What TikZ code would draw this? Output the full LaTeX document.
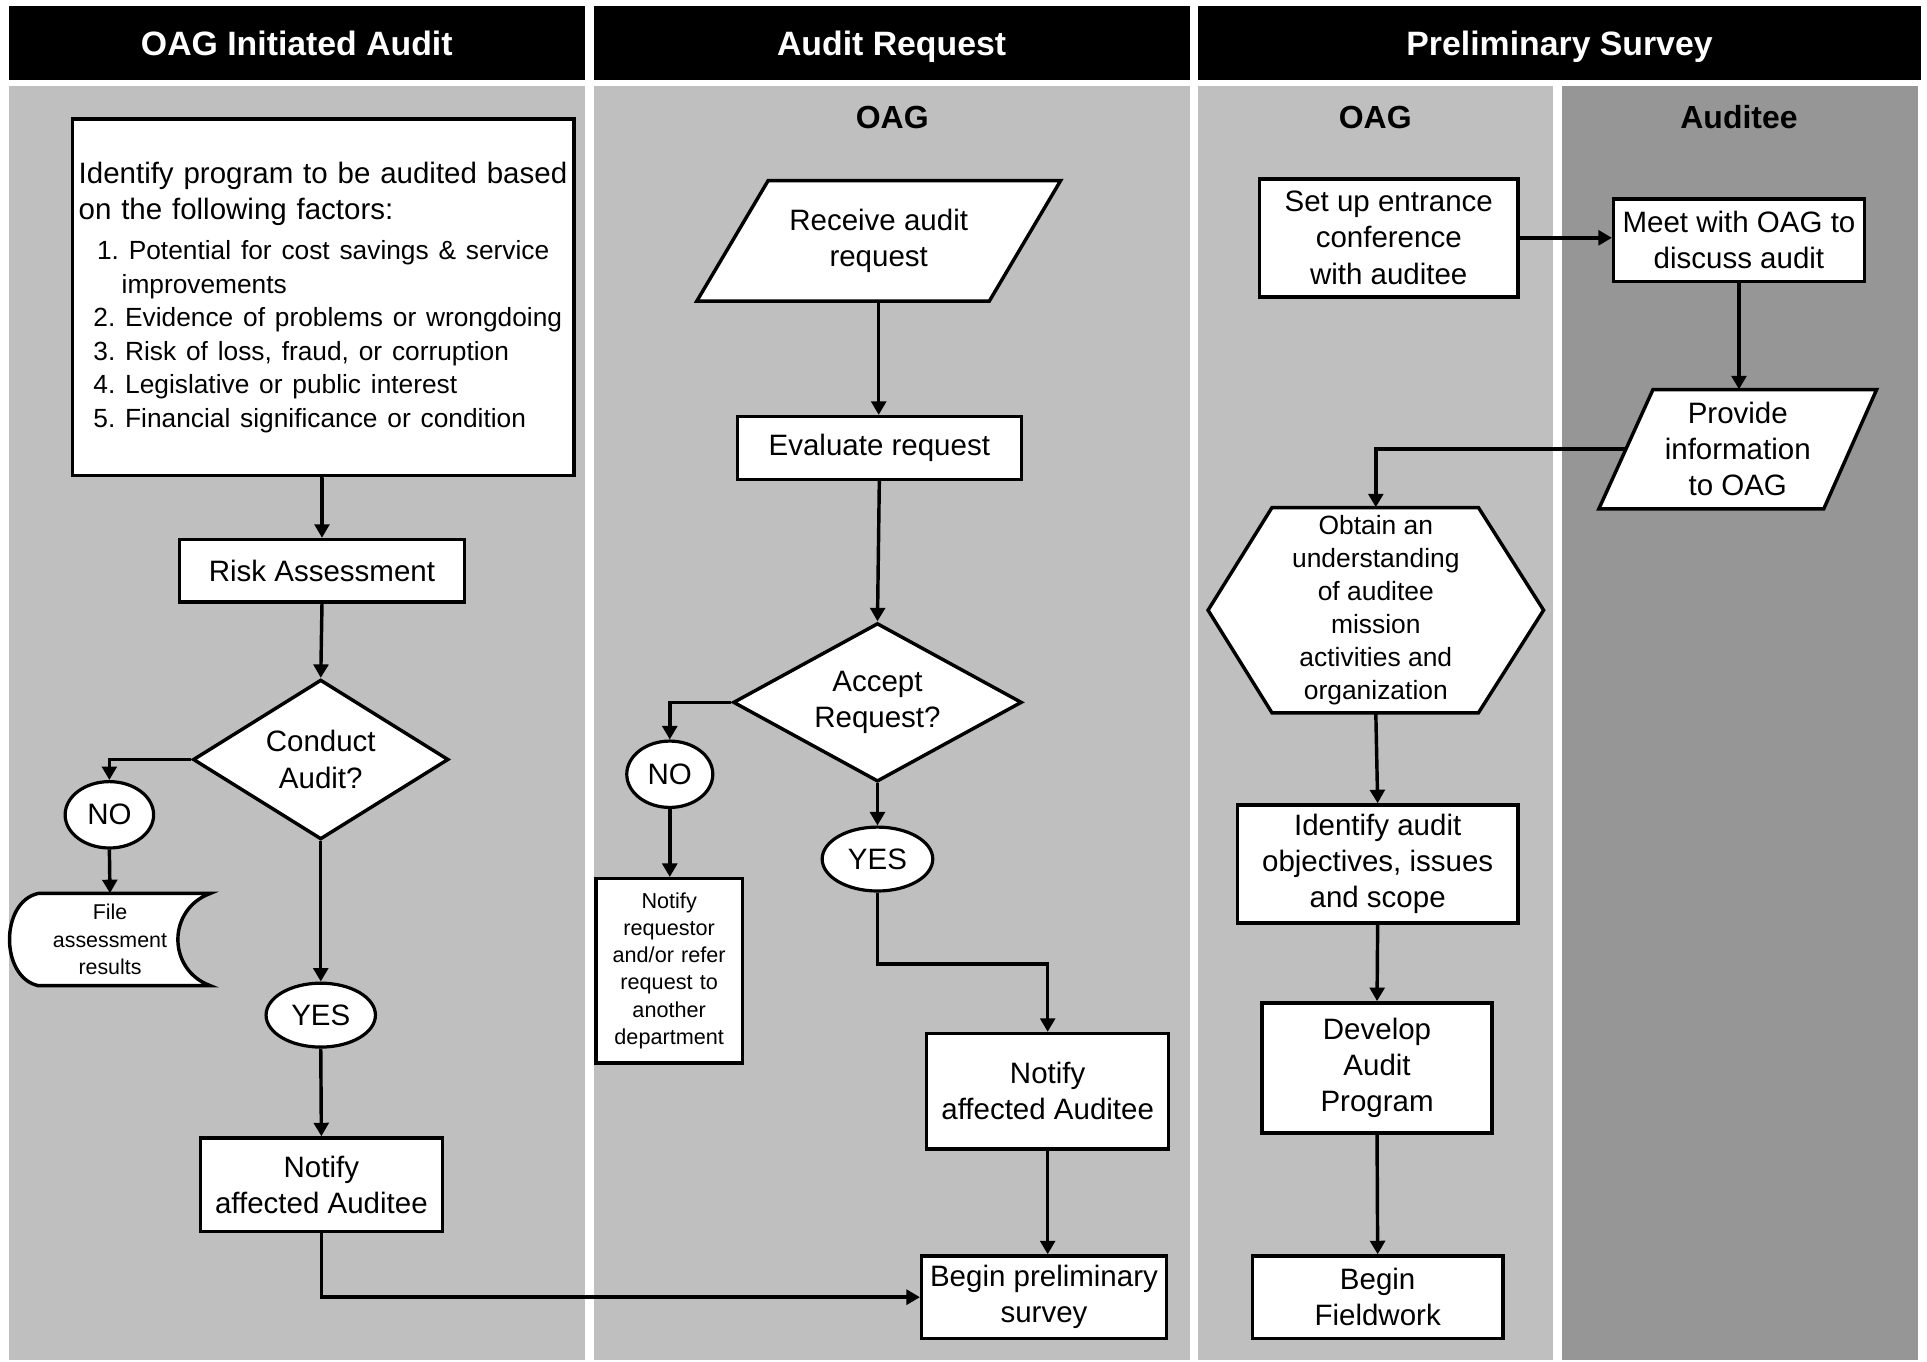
\documentclass[tikz,border=0pt]{standalone}
\usepackage{fontspec}
\setmainfont{Liberation Sans}
\usetikzlibrary{shapes.geometric,arrows.meta}
\definecolor{lanegray}{gray}{0.75}
\definecolor{auditeegray}{gray}{0.59}
\frenchspacing

\begin{document}
\begin{tikzpicture}[x=1pt,y=-1pt,
  header/.style={fill=black,text=white,inner sep=0pt,minimum height=60pt,text height=20pt,text depth=0pt,font=\bfseries\fontsize{27.5}{33}\selectfont},
  lanetitle/.style={inner sep=0pt,text height=19pt,text depth=0pt,font=\bfseries\fontsize{26}{31}\selectfont},
  procbox/.style={draw,fill=white,line width=2.8pt,align=center,inner sep=0pt,font=\fontsize{24}{29.5}\selectfont},
  decision/.style={diamond,aspect=1.7,draw,fill=white,line width=2.8pt,align=center,inner sep=0pt,font=\fontsize{24}{29.5}\selectfont},
  answer/.style={ellipse,draw,fill=white,line width=2.6pt,inner sep=0pt,font=\fontsize{24}{29}\selectfont},
  shapeline/.style={draw,fill=white,line width=2.8pt},
  shapetext/.style={align=center,inner sep=0pt,font=\fontsize{24}{29.5}\selectfont},
  flow/.style={-{Triangle[length=11pt,width=12pt]},line width=2.8pt}]
\useasboundingbox[fill=white] (0,0) rectangle (1568,1108);

% Spalten
\fill[lanegray] (7,70) rectangle (476,1107);
\fill[lanegray] (483,70) rectangle (968,1107);
\fill[lanegray] (975,70) rectangle (1264,1107);
\fill[auditeegray] (1271,70) rectangle (1561,1107);

\node[header,minimum width=469pt] (hdrinit) at (241.5,35) {OAG Initiated Audit};
\node[header,minimum width=485pt] (hdrreq) at (725.5,35) {Audit Request};
\node[header,minimum width=588pt] (hdrsurvey) at (1269,35) {Preliminary Survey};

\node[lanetitle] (oagreq) at (726,95) {OAG};
\node[lanetitle] (oagsurvey) at (1119,95) {OAG};
\node[lanetitle] (auditee) at (1415,95) {Auditee};

% Sonderformen
\coordinate (recvA) at (625,147);
\coordinate (recvB) at (863,147);
\coordinate (recvC) at (805,245);
\coordinate (recvD) at (567,245);
\coordinate (provA) at (1345,317);
\coordinate (provB) at (1527,317);
\coordinate (provC) at (1484,414);
\coordinate (provD) at (1301,414);
\draw[shapeline] (recvA) -- (recvB) -- (recvC) -- (recvD) -- cycle;
\draw[shapeline] (provA) -- (provB) -- (provC) -- (provD) -- cycle;
\draw[shapeline] (1035,413) -- (1203,413) -- (1256,496.5) -- (1203,580) -- (1035,580) -- (983,496.5) -- cycle;
\draw[shapeline] (31,727) -- (171,727) .. controls (136,740) and (136,789) .. (171,802)
  -- (31,802) .. controls (0,795) and (0,734) .. cycle;

% Spalte 1
\node[procbox,minimum width=408pt,minimum height=290pt,text width=398pt,align=left] (factors) at (263,242) {%
\raggedright
Identify program to be audited based\\
on the following factors:\par\vspace{5pt}
{\fontsize{21.4}{27.3}\selectfont
\hspace*{15pt}1. Potential for cost savings \& service\\
\hspace*{35pt}improvements\\
\hspace*{12pt}2. Evidence of problems or wrongdoing\\
\hspace*{12pt}3. Risk of loss, fraud, or corruption\\
\hspace*{12pt}4. Legislative or public interest\\
\hspace*{12pt}5. Financial significance or condition\par}};
\node[procbox,minimum width=232pt,minimum height=51pt] (risk) at (262,464.5) {Risk Assessment};
\node[decision,minimum width=208pt,minimum height=130pt] (conduct) at (261,618) {Conduct\\Audit?};
\node[answer,minimum width=72pt,minimum height=54pt] (noinit) at (89,663) {NO};
\node[shapetext,minimum width=165pt,minimum height=75pt,font=\fontsize{17.4}{22.5}\selectfont] (filed) at (89.5,764.5) {File\\assessment\\results};
\node[answer,minimum width=89pt,minimum height=52pt] (yesinit) at (261,826) {YES};
\node[procbox,minimum width=197pt,minimum height=76pt] (notifyinit) at (261.5,964) {Notify\\affected Auditee};

% Spalte 2
\node[shapetext,minimum width=180pt,minimum height=98pt] (recv) at (715,196) {Receive audit\\request};
\node[procbox,minimum width=231pt,minimum height=51pt] (evalreq) at (715.5,364.5) {Evaluate request};
\node[decision,minimum width=235pt,minimum height=129pt] (accept) at (714,571.5) {Accept\\Request?};
\node[answer,minimum width=70pt,minimum height=54pt] (noreq) at (545,630) {NO};
\node[procbox,minimum width=119pt,minimum height=150pt,text width=111pt,font=\fontsize{17.6}{22}\selectfont] (refer) at (544.5,790) {Notify\\requestor\\and/or refer\\request to\\another\\department\\[19pt]};
\node[answer,minimum width=90pt,minimum height=52pt] (yesreq) at (714,699) {YES};
\node[procbox,minimum width=197pt,minimum height=94pt] (notifyreq) at (852.5,888) {Notify\\affected Auditee};
\node[procbox,minimum width=199pt,minimum height=67pt] (beginsurvey) at (849.5,1055.5) {Begin preliminary\\survey};

% Spalte 3
\node[procbox,minimum width=210pt,minimum height=96pt] (setup) at (1130,193.5) {Set up entrance\\conference\\with auditee};
\node[procbox,minimum width=204pt,minimum height=67pt] (meet) at (1415,195.5) {Meet with OAG to\\discuss audit};
\node[shapetext,minimum width=182pt,minimum height=97pt] (provide) at (1414,365.5) {Provide\\information\\to OAG};
\node[shapetext,minimum width=273pt,minimum height=167pt,font=\fontsize{21.5}{27}\selectfont] (understand) at (1119.5,496.5) {Obtain an\\understanding\\of auditee\\mission\\activities and\\organization};
\node[procbox,minimum width=228pt,minimum height=96pt] (objectives) at (1121,703) {Identify audit\\objectives, issues\\and scope};
\node[procbox,minimum width=187pt,minimum height=106pt] (program) at (1120.5,869) {Develop\\Audit\\Program};
\node[procbox,minimum width=204pt,minimum height=67pt] (fieldwork) at (1121,1055.5) {Begin\\Fieldwork};

% Pfeile
\draw[flow] (factors.south) -- (factors.south -| risk) -- (risk.north);
\draw[flow] (risk.south) -- (conduct.north);
\draw[flow] (conduct.west) -| (noinit.north);
\draw[flow] (noinit.south) -- (filed.north);
\draw[flow] (conduct.south) -- (yesinit.north);
\draw[flow] (yesinit.south) -- (notifyinit.north);
\draw[flow] (notifyinit.south) |- (beginsurvey.west);
\draw[flow] (recv.south) -- (evalreq.north -| recv.south);
\draw[flow] (evalreq.south) -- (accept.north);
\draw[flow] (accept.west) -| (noreq.north);
\draw[flow] (noreq.south) -- (refer.north -| noreq.south);
\draw[flow] (accept.south) -- (yesreq.north);
\draw[flow] (yesreq.south) -- ++(0,58) -| (notifyreq.north);
\draw[flow] (notifyreq.south) -- (notifyreq.south |- beginsurvey.north);
\draw[flow] (setup.east) -- (setup.east -| meet.west);
\draw[flow] (meet.south) -- (meet.south |- provide.north);
\draw[flow] (provide.west) -| (understand.north);
\draw[flow] (understand.south) -- (objectives.north);
\draw[flow] (objectives.south) -- (program.north);
\draw[flow] (program.south) -- (fieldwork.north);
\end{tikzpicture}
\end{document}
